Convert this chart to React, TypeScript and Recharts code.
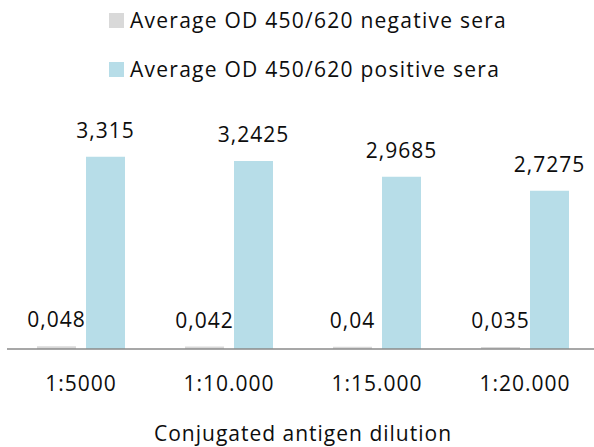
import React from 'react';
import { BarChart, Bar, XAxis, YAxis, Legend, LabelList } from 'recharts';

const categories = ['1:5000', '1:10.000', '1:15.000', '1:20.000'];
const negativeValues = [0.048, 0.042, 0.04, 0.035];
const positiveValues = [3.315, 3.2425, 2.9685, 2.7275];
const seriesNames = ['Average OD 450/620 negative sera', 'Average OD 450/620 positive sera'];
const seriesColors = ['#d9d9d9', '#b7dde8'];
const axisTitle = 'Conjugated antigen dilution';

const data = categories.map((c, i) => ({ cat: c, neg: negativeValues[i], pos: positiveValues[i] }));

const FONT = '"Open Sans", sans-serif';
const TEXT = '#0d0d0d';
const fmt = (v: any) => String(v).replace('.', ',');

const LegendContent = () => (
  <div style={{ position: 'relative', width: 600, height: 100, fontFamily: FONT }}>
    {seriesNames.map((n, i) => (
      <div key={n} style={{ position: 'absolute', left: 109, top: 13 + i * 49, height: 15, display: 'flex', alignItems: 'center' }}>
        <div style={{ width: 15, height: 15, background: seriesColors[i] }} />
        <span style={{ marginLeft: 6, fontSize: 21, letterSpacing: 1.25, color: TEXT, whiteSpace: 'nowrap', lineHeight: '15px' }}>{n}</span>
      </div>
    ))}
  </div>
);

const Tick = (props: any) => {
  const { x, payload } = props;
  return (
    <text x={x} y={391} textAnchor="middle" fontFamily={FONT} fontSize={21} letterSpacing={1} fill={TEXT}>
      {payload.value}
    </text>
  );
};

const AxisTitle = (props: any) => {
  const vb = props.viewBox || {};
  const cx = vb.width ? vb.x + vb.width / 2 : 303;
  return (
    <text x={cx} y={441} textAnchor="middle" fontFamily={FONT} fontSize={21} letterSpacing={1} fill={TEXT}>
      {axisTitle}
    </text>
  );
};

export default function App() {
  return (
    <>
      <style>{`html,body{margin:0;padding:0;overflow:hidden;}`}</style>
      <div style={{ width: 594, height: 447, overflow: 'hidden', position: 'relative' }}>
        <BarChart width={600} height={447} data={data} margin={{ top: 17, right: 1, bottom: 0, left: 7 }} barSize={39} barGap={10}>
          <Legend verticalAlign="top" content={<LegendContent />} wrapperStyle={{ left: 0, top: 0, width: 600, height: 100 }} />
          <YAxis hide domain={[0, 4]} />
          <XAxis
            dataKey="cat"
            height={98}
            tickLine={false}
            axisLine={{ stroke: '#8a8a8a', strokeWidth: 1.5 }}
            tick={<Tick />}
            label={<AxisTitle />}
            interval={0}
          />
          <Bar dataKey="neg" name={seriesNames[0]} fill={seriesColors[0]} isAnimationActive={false}>
            <LabelList dataKey="neg" position="top" offset={19} formatter={fmt} fontFamily={FONT} fontSize={21} letterSpacing={1} fill={TEXT} />
          </Bar>
          <Bar dataKey="pos" name={seriesNames[1]} fill={seriesColors[1]} isAnimationActive={false}>
            <LabelList dataKey="pos" position="top" offset={19} formatter={fmt} fontFamily={FONT} fontSize={21} letterSpacing={1} fill={TEXT} />
          </Bar>
        </BarChart>
      </div>
    </>
  );
}
